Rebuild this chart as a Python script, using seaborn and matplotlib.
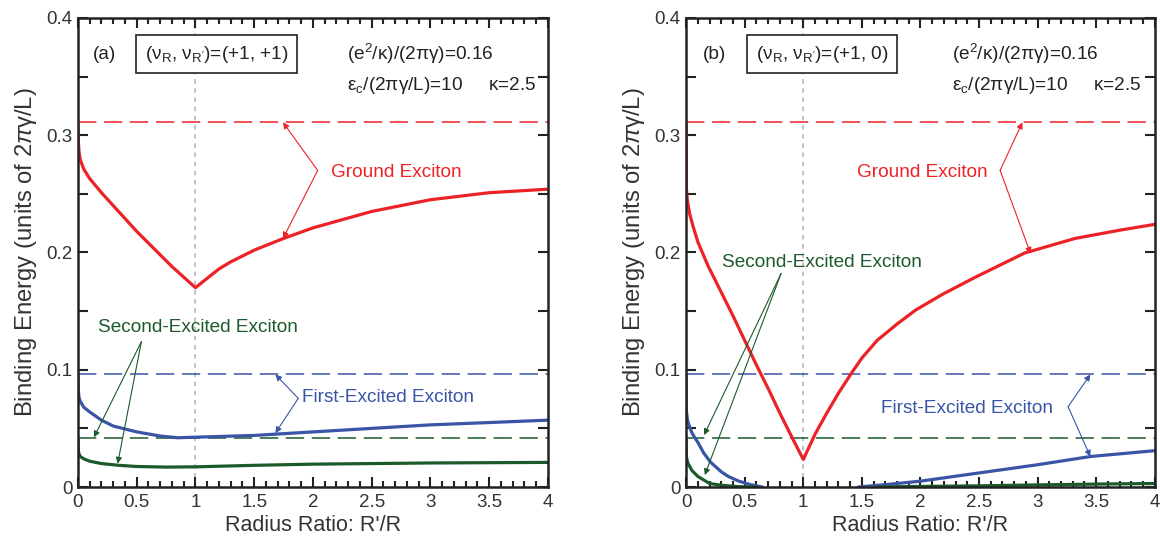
import numpy as np
import seaborn as sns
import matplotlib
matplotlib.use("Agg")
import matplotlib.pyplot as plt
from matplotlib.ticker import MultipleLocator, FormatStrFormatter

# limits (dashed lines), same for both panels
ground_limit = 0.311
first_limit = 0.096
second_limit = 0.042

# panel (a): (nu_R, nu_R') = (+1, +1)
a_red_x = [0, 0.003, 0.01, 0.02, 0.05, 0.1, 0.2, 0.3, 0.4, 0.5, 0.6, 0.7, 0.8, 0.9, 1.0,
           1.1, 1.2, 1.3, 1.5, 1.75, 2.0, 2.5, 3.0, 3.5, 4.0]
a_red_y = [0.31, 0.295, 0.285, 0.279, 0.271, 0.263, 0.251, 0.240, 0.229, 0.218, 0.208, 0.198, 0.188, 0.179, 0.170,
           0.178, 0.186, 0.192, 0.202, 0.212, 0.221, 0.235, 0.245, 0.251, 0.254]
a_blue_x = [0, 0.003, 0.01, 0.02, 0.05, 0.1, 0.2, 0.3, 0.5, 0.7, 0.85, 1.0, 1.5, 2.0, 2.5, 3.0, 3.5, 4.0]
a_blue_y = [0.096, 0.082, 0.076, 0.073, 0.068, 0.064, 0.057, 0.052, 0.047, 0.0435, 0.042, 0.0425,
            0.044, 0.047, 0.050, 0.053, 0.055, 0.057]
a_green_x = [0, 0.003, 0.01, 0.02, 0.05, 0.1, 0.2, 0.35, 0.5, 0.75, 1.0, 1.5, 2.0, 2.5, 3.0, 4.0]
a_green_y = [0.042, 0.031, 0.028, 0.026, 0.024, 0.022, 0.020, 0.0185, 0.0175, 0.017, 0.0172,
             0.0185, 0.0195, 0.020, 0.0205, 0.021]

# panel (b): (nu_R, nu_R') = (+1, 0)
b_red_x = [0, 0.002, 0.01, 0.03, 0.06, 0.1, 0.185, 0.3, 0.4, 0.5, 0.6, 0.7, 0.8, 0.9, 1.0,
           1.1, 1.2, 1.3, 1.41, 1.5, 1.63, 1.8, 1.96, 2.2, 2.47, 2.89, 3.32, 3.7, 4.0]
b_red_y = [0.31, 0.255, 0.245, 0.233, 0.222, 0.209, 0.189, 0.166, 0.146, 0.125, 0.104, 0.084, 0.063, 0.043, 0.0235,
           0.045, 0.063, 0.080, 0.097, 0.110, 0.125, 0.139, 0.151, 0.165, 0.179, 0.1996, 0.212, 0.219, 0.224]
b_blue_x1 = [0, 0.002, 0.01, 0.017, 0.05, 0.1, 0.15, 0.21, 0.3, 0.36, 0.45, 0.55, 0.65]
b_blue_y1 = [0.096, 0.065, 0.058, 0.055, 0.046, 0.038, 0.029, 0.021, 0.013, 0.009, 0.005, 0.002, 0.0]
b_blue_x2 = [1.47, 1.7, 2.0, 2.5, 3.0, 3.45, 4.0]
b_blue_y2 = [0.0, 0.002, 0.005, 0.012, 0.019, 0.026, 0.031]
b_green_x1 = [0, 0.002, 0.01, 0.017, 0.05, 0.1, 0.2, 0.3, 0.45, 0.6]
b_green_y1 = [0.042, 0.026, 0.022, 0.020, 0.014, 0.009, 0.003, 0.0015, 0.0003, 0.0]
b_green_x2 = [1.64, 2.0, 2.5, 3.0, 3.5, 4.0]
b_green_y2 = [0.0, 0.0005, 0.001, 0.0018, 0.0025, 0.003]

RED = '#ec2227'
BLUE = '#3a55a6'
GREEN = '#1d5a2b'
INK = '#222222'

sns.set_style('ticks')
plt.rcParams['font.family'] = ['Liberation Sans', 'DejaVu Sans']
plt.rcParams['mathtext.fontset'] = 'custom'
plt.rcParams['mathtext.rm'] = 'Liberation Sans'
plt.rcParams['mathtext.it'] = 'Liberation Sans:italic'

fig = plt.figure(figsize=(11.6, 5.43), dpi=100)
ax_a = fig.add_axes([0.0672, 0.1031, 0.4052, 0.8638])
ax_b = fig.add_axes([0.5915, 0.1031, 0.4040, 0.8638])

FS = 13.7


def curve(ax, x, y, color):
    sns.lineplot(x=x, y=y, ax=ax, color=color, lw=2.3, estimator=None, sort=False)


def arrow(ax, start, tip, color):
    ax.annotate('', xy=tip, xytext=start,
                arrowprops=dict(arrowstyle='-|>', color=color, lw=0.8,
                                shrinkA=0, shrinkB=0, mutation_scale=9))


def style_axes(ax):
    ax.set_xlim(0, 4)
    ax.set_ylim(0, 0.4)
    ax.xaxis.set_major_locator(MultipleLocator(0.5))
    ax.xaxis.set_minor_locator(MultipleLocator(0.1))
    ax.yaxis.set_major_locator(MultipleLocator(0.1))
    ax.yaxis.set_minor_locator(MultipleLocator(0.05))
    ax.xaxis.set_major_formatter(FormatStrFormatter('%g'))
    ax.yaxis.set_major_formatter(FormatStrFormatter('%g'))
    ax.tick_params(which='both', direction='in', top=True, right=True, width=1.5, colors=INK,
                   labelsize=13.5, labelcolor='#333333')
    ax.tick_params(axis='x', which='major', length=7, pad=5)
    ax.tick_params(axis='x', which='minor', length=4)
    ax.tick_params(axis='y', which='both', length=7, pad=4)
    for sp in ax.spines.values():
        sp.set_linewidth(1.8)
        sp.set_color(INK)
    ax.set_xlabel("Radius Ratio: R'/R", fontsize=15.5, color='#333333', labelpad=3)
    ax.set_ylabel('Binding Energy (units of 2$\\mathit{\\pi}$γ/L)', fontsize=17.2, color='#333333', labelpad=5)
    ax.axvline(1, color='#b0b0b0', lw=1.1, ls=(0, (3, 3)), zorder=0)
    ax.axhline(ground_limit, color=RED, lw=1.1, ls=(0, (12, 5)))
    ax.axhline(first_limit, color=BLUE, lw=1.1, ls=(0, (12, 5)))
    ax.axhline(second_limit, color=GREEN, lw=1.1, ls=(0, (12, 5)))


params1 = '(e$^2$/κ)/(2πγ)=0.16'
params2 = 'ε$_\\mathrm{c}$/(2πγ/L)=10     κ=2.5'

# panel (a)
style_axes(ax_a)
curve(ax_a, a_red_x, a_red_y, RED)
curve(ax_a, a_blue_x, a_blue_y, BLUE)
curve(ax_a, a_green_x, a_green_y, GREEN)
ax_a.text(0.13, 0.369, '(a)', fontsize=FS, ha='left', va='center', color=INK)
ax_a.text(1.18, 0.369, "(ν$_\\mathrm{R}$, ν$_{\\mathrm{R'}}$)=(+1, +1)", fontsize=FS, ha='center', va='center',
          color=INK, bbox=dict(boxstyle='square,pad=0.45', fc='white', ec=INK, lw=1.2))
ax_a.text(2.29, 0.369, params1, fontsize=FS, ha='left', va='center', color=INK)
ax_a.text(2.29, 0.342, params2, fontsize=FS, ha='left', va='center', color=INK)
ax_a.text(2.15, 0.268, 'Ground Exciton', fontsize=FS, color=RED, va='center')
arrow(ax_a, (2.04, 0.270), (1.745, 0.311), RED)
arrow(ax_a, (2.04, 0.270), (1.745, 0.212), RED)
ax_a.text(1.91, 0.076, 'First-Excited Exciton', fontsize=FS, color=BLUE, va='center')
arrow(ax_a, (1.875, 0.0756), (1.68, 0.096), BLUE)
arrow(ax_a, (1.875, 0.0756), (1.68, 0.046), BLUE)
ax_a.text(1.02, 0.136, 'Second-Excited Exciton', fontsize=FS, color=GREEN, ha='center', va='center')
arrow(ax_a, (0.54, 0.124), (0.136, 0.0424), GREEN)
arrow(ax_a, (0.54, 0.124), (0.338, 0.020), GREEN)

# panel (b)
style_axes(ax_b)
curve(ax_b, b_red_x, b_red_y, RED)
curve(ax_b, b_blue_x1, b_blue_y1, BLUE)
curve(ax_b, b_blue_x2, b_blue_y2, BLUE)
curve(ax_b, b_green_x1, b_green_y1, GREEN)
curve(ax_b, b_green_x2, b_green_y2, GREEN)
ax_b.text(0.14, 0.369, '(b)', fontsize=FS, ha='left', va='center', color=INK)
ax_b.text(1.16, 0.369, "(ν$_\\mathrm{R}$, ν$_{\\mathrm{R'}}$)=(+1, 0)", fontsize=FS, ha='center', va='center',
          color=INK, bbox=dict(boxstyle='square,pad=0.45', fc='white', ec=INK, lw=1.2))
ax_b.text(2.27, 0.369, params1, fontsize=FS, ha='left', va='center', color=INK)
ax_b.text(2.27, 0.342, params2, fontsize=FS, ha='left', va='center', color=INK)
ax_b.text(1.46, 0.268, 'Ground Exciton', fontsize=FS, color=RED, va='center')
arrow(ax_b, (2.68, 0.270), (2.87, 0.311), RED)
arrow(ax_b, (2.68, 0.270), (2.94, 0.199), RED)
ax_b.text(1.66, 0.0673, 'First-Excited Exciton', fontsize=FS, color=BLUE, va='center')
arrow(ax_b, (3.26, 0.0685), (3.45, 0.096), BLUE)
arrow(ax_b, (3.26, 0.0685), (3.45, 0.026), BLUE)
ax_b.text(1.16, 0.1915, 'Second-Excited Exciton', fontsize=FS, color=GREEN, ha='center', va='center')
arrow(ax_b, (0.81, 0.182), (0.153, 0.0443), GREEN)
arrow(ax_b, (0.81, 0.182), (0.159, 0.0102), GREEN)

fig.savefig('out.png', dpi=100)
